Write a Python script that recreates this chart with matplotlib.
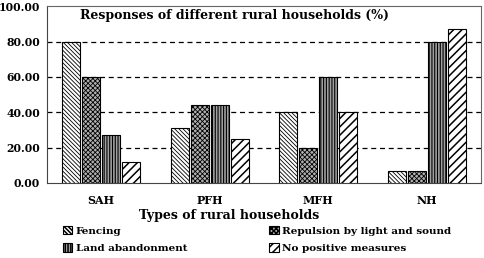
import matplotlib.pyplot as plt
import numpy as np

# data
categories = ['SAH', 'PFH', 'MFH', 'NH']
fencing = [80, 31, 40, 7]
repulsion = [60, 44, 20, 7]
abandon = [27, 44, 60, 80]
no_measures = [12, 25, 40, 87]
series_names = ['Fencing', 'Repulsion by light and sound', 'Land abandonment', 'No positive measures']

plt.rcParams['font.family'] = ['DejaVu Serif']
plt.rcParams['font.weight'] = 'bold'

fig = plt.figure(figsize=(4.84, 2.58), dpi=100)
ax = fig.add_axes([0.097, 0.291, 0.897, 0.685])

x = np.arange(len(categories))
w = 0.165
step = 0.185
# facecolor, hatch, hatch linewidth
styles = [('white', '\\' * 8, 0.6), ('#b0b0b0', 'x' * 7, 0.6),
          ('#a0a0a0', '|' * 6, 0.8), ('white', '/' * 4, 1.1)]
vals = [fencing, repulsion, abandon, no_measures]
handles = []
for i, (v, (fc, h, hlw)) in enumerate(zip(vals, styles)):
    plt.rcParams['hatch.linewidth'] = hlw
    b = ax.bar(x + (i - 1.5) * step, v, width=w, color=fc, edgecolor='black',
               hatch=h, linewidth=0.8, zorder=3, label=series_names[i])
    handles.append(b)

ax.set_ylim(0, 100)
ax.set_xlim(-0.5, 3.5)
ax.set_yticks([0, 20, 40, 60, 80, 100])
ax.set_yticklabels(['%.2f' % t for t in [0, 20, 40, 60, 80, 100]], fontsize=7.8, fontweight='bold')
ax.set_xticks(x)
ax.set_xticklabels(categories, fontsize=8, fontweight='bold')
ax.tick_params(axis='x', length=0, pad=9)
ax.tick_params(axis='y', length=0, pad=5)
for t in [20, 40, 60, 80]:
    ax.axhline(t, color='black', linestyle=(0, (4, 3)), linewidth=0.9, zorder=1)
for s in ['top', 'right']:
    ax.spines[s].set_color('#666666')
ax.spines['left'].set_color('#444444')
ax.spines['bottom'].set_color('#444444')

ax.text(0.433, 0.948, 'Responses of different rural households (%)', transform=ax.transAxes,
        ha='center', va='center', fontsize=9, fontweight='bold')
ax.set_xlabel('Types of rural households', fontsize=9, fontweight='bold', labelpad=-1)
ax.xaxis.set_label_coords(0.42, -0.145)

order = [handles[0], handles[2], handles[1], handles[3]]
fig.legend(order, [h.get_label() for h in order], ncol=2, loc='lower left',
           bbox_to_anchor=(0.11, -0.018), frameon=False, fontsize=7.5,
           handlelength=0.9, handleheight=0.9, handletextpad=0.35, columnspacing=7.9,
           labelspacing=0.75)

fig.savefig('out.png', dpi=100)
